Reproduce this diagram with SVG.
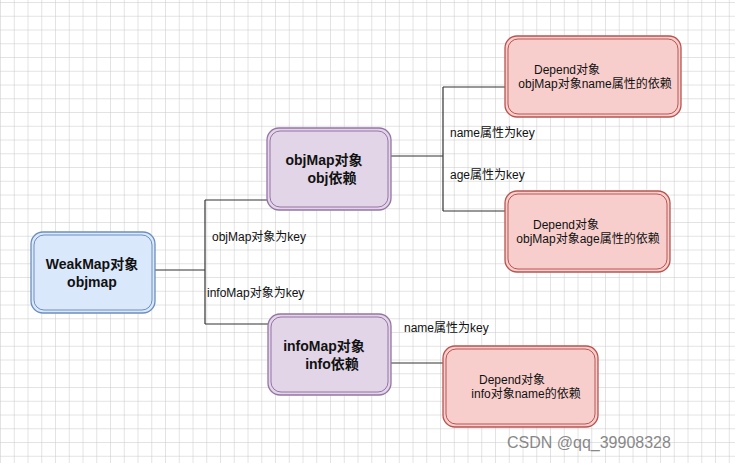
<svg xmlns="http://www.w3.org/2000/svg" width="735" height="463" viewBox="0 0 735 463">
<defs>
<pattern id="grid" width="13.75" height="13.75" patternUnits="userSpaceOnUse" x="1" y="3">
<path d="M13.75 0V13.75H0" fill="none" stroke="#c8c8c8" stroke-width="1"/>
</pattern>
<style>
.b{fill:#dae8fc;stroke:#6c8ebf;stroke-width:1.3}
.p{fill:#e1d5e7;stroke:#9673a6;stroke-width:1.3}
.r{fill:#f8cecc;stroke:#b85450;stroke-width:1.3}
.i{fill:none;stroke-width:1}
.big{font-family:"Liberation Sans","Noto Sans CJK SC",sans-serif;font-size:14px;font-weight:bold;fill:#111;text-anchor:middle}
.sm{font-family:"Liberation Sans","Noto Sans CJK SC",sans-serif;font-size:12px;fill:#111;text-anchor:middle}
.lb{font-family:"Liberation Sans","Noto Sans CJK SC",sans-serif;font-size:12px;fill:#111}
.c{fill:none;stroke:#333;stroke-width:1.2}
</style>
</defs>
<rect width="735" height="463" fill="#fff"/>
<rect width="735" height="463" fill="url(#grid)"/>
<g id="connectors">
<path class="c" d="M155 270H205M205 200V324M205 200H267M205 324H268"/>
<path class="c" d="M391 156H443M443 87V211M443 87H505M443 211H505"/>
<path class="c" d="M391 363H443"/>
<text class="lb" x="212" y="241">objMap对象为key</text>
<text class="lb" x="207" y="297">infoMap对象为key</text>
<text class="lb" x="450" y="137">name属性为key</text>
<text class="lb" x="450" y="179">age属性为key</text>
<text class="lb" x="404" y="332">name属性为key</text>
</g>
<g id="weakmap">
<rect class="b" x="31" y="232" width="124" height="81" rx="12"/>
<rect class="b i" x="34" y="235" width="118" height="75" rx="10"/>
<text class="big" x="92" y="269">WeakMap对象</text>
<text class="big" x="92" y="287">objmap</text>
</g>
<g id="objmap">
<rect class="p" x="267" y="128" width="124" height="82" rx="12"/>
<rect class="p i" x="270" y="131" width="118" height="76" rx="10"/>
<text class="big" x="324" y="165">objMap对象</text>
<text class="big" x="332" y="183">obj依赖</text>
</g>
<g id="infomap">
<rect class="p" x="268" y="314" width="123" height="81" rx="12"/>
<rect class="p i" x="271" y="317" width="117" height="75" rx="10"/>
<text class="big" x="324" y="351">infoMap对象</text>
<text class="big" x="332" y="369">info依赖</text>
</g>
<g id="depend1">
<rect class="r" x="505" y="36" width="176" height="81" rx="12"/>
<rect class="r i" x="508" y="39" width="170" height="75" rx="10"/>
<text class="sm" x="567" y="74">Depend对象</text>
<text class="sm" x="595" y="88">objMap对象name属性的依赖</text>
</g>
<g id="depend2">
<rect class="r" x="505" y="191" width="165" height="81" rx="12"/>
<rect class="r i" x="508" y="194" width="159" height="75" rx="10"/>
<text class="sm" x="566" y="229">Depend对象</text>
<text class="sm" x="588" y="243">objMap对象age属性的依赖</text>
</g>
<g id="depend3">
<rect class="r" x="443" y="346" width="155" height="81" rx="12"/>
<rect class="r i" x="446" y="349" width="149" height="75" rx="10"/>
<text class="sm" x="512" y="384">Depend对象</text>
<text class="sm" x="526" y="398">info对象name的依赖</text>
</g>
<text x="507" y="448" font-family="'Liberation Sans','Noto Sans CJK SC',sans-serif" font-size="16" fill="#888">CSDN @qq_39908328</text>
</svg>
